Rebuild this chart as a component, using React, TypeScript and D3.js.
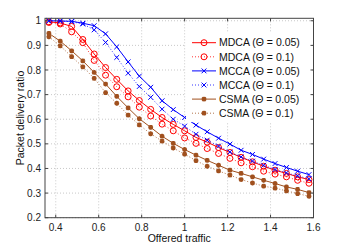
import * as d3 from "d3";

const W = 346, H = 245;
const M = { left: 45, right: 313.5, top: 18.3, bottom: 217.7 };

// offered traffic at each measured point
const traffic = [0.368, 0.421, 0.474, 0.526, 0.579, 0.632, 0.684, 0.737, 0.789, 0.842, 0.895, 0.947,
  1.0, 1.053, 1.105, 1.158, 1.211, 1.263, 1.316, 1.368, 1.421, 1.474, 1.526, 1.579];

const mdca05 = [0.996, 0.991, 0.977, 0.924, 0.865, 0.81, 0.762, 0.715, 0.676, 0.64, 0.607, 0.579,
  0.553, 0.526, 0.507, 0.485, 0.465, 0.445, 0.427, 0.409, 0.393, 0.38, 0.366, 0.355];
const mdca10 = [0.993, 0.987, 0.955, 0.911, 0.839, 0.779, 0.732, 0.691, 0.649, 0.613, 0.58, 0.553,
  0.524, 0.502, 0.481, 0.461, 0.441, 0.423, 0.407, 0.389, 0.377, 0.366, 0.352, 0.34];
const mcca05 = [1.0, 0.999, 0.998, 0.99, 0.98, 0.947, 0.894, 0.833, 0.775, 0.73, 0.675, 0.639,
  0.607, 0.576, 0.549, 0.523, 0.499, 0.474, 0.457, 0.438, 0.42, 0.404, 0.389, 0.375];
const mcca10 = [1.0, 0.999, 0.996, 0.987, 0.963, 0.912, 0.851, 0.787, 0.733, 0.689, 0.641, 0.6,
  0.572, 0.539, 0.515, 0.491, 0.467, 0.447, 0.43, 0.413, 0.396, 0.382, 0.37, 0.358];
const csma05 = [0.949, 0.917, 0.878, 0.837, 0.79, 0.743, 0.693, 0.646, 0.602, 0.567, 0.531, 0.502,
  0.477, 0.454, 0.433, 0.413, 0.393, 0.38, 0.366, 0.352, 0.339, 0.325, 0.315, 0.302];
const csma10 = [0.935, 0.898, 0.854, 0.813, 0.766, 0.708, 0.665, 0.617, 0.577, 0.541, 0.511, 0.483,
  0.458, 0.432, 0.409, 0.39, 0.373, 0.355, 0.341, 0.328, 0.32, 0.309, 0.298, 0.287];

const xTicks = [0.4, 0.6, 0.8, 1, 1.2, 1.4, 1.6];
const yTicks = [0.2, 0.3, 0.4, 0.5, 0.6, 0.7, 0.8, 0.9, 1];

const RED = "#ff0000", BLUE = "#0000ff", BROWN = "#a0501e";

type Marker = "o" | "x" | "*";
const series: { name: string; values: number[]; color: string; dotted: boolean; marker: Marker }[] = [
  { name: "MDCA (\u0398 = 0.05)", values: mdca05, color: RED, dotted: false, marker: "o" },
  { name: "MDCA (\u0398 = 0.1)", values: mdca10, color: RED, dotted: true, marker: "o" },
  { name: "MCCA (\u0398 = 0.05)", values: mcca05, color: BLUE, dotted: false, marker: "x" },
  { name: "MCCA (\u0398 = 0.1)", values: mcca10, color: BLUE, dotted: true, marker: "x" },
  { name: "CSMA (\u0398 = 0.05)", values: csma05, color: BROWN, dotted: false, marker: "*" },
  { name: "CSMA (\u0398 = 0.1)", values: csma10, color: BROWN, dotted: true, marker: "*" },
];

const FONT = "'Liberation Sans', Arial, sans-serif";

function Mark({ type, x, y, color }: { type: Marker; x: number; y: number; color: string }) {
  if (type === "o") return <circle cx={x} cy={y} r={3} fill="none" stroke={color} strokeWidth={1} />;
  if (type === "x") {
    const s = 2.4;
    return <path d={`M${x - s},${y - s}L${x + s},${y + s}M${x - s},${y + s}L${x + s},${y - s}`}
      stroke={color} strokeWidth={1} />;
  }
  const s = 2.4, d = s * 0.75;
  return <path d={`M${x},${y - s}V${y + s}M${x - s},${y}H${x + s}M${x - d},${y - d}L${x + d},${y + d}M${x - d},${y + d}L${x + d},${y - d}`}
    stroke={color} strokeWidth={1.5} />;
}

export default function App() {
  const x = d3.scaleLinear([0.35, 1.6], [M.left, M.right]);
  const y = d3.scaleLinear([0.2, 1.01], [M.bottom, M.top]);
  const line = d3.line<number>().x((_, i) => x(traffic[i])).y((v) => y(v));

  const legX = 192, legY = 42.7, legStep = 14.1;

  return (
    <>
      <style>{"body{margin:0}"}</style>
      <svg width={W} height={H} style={{ display: "block", background: "#fff", fontFamily: FONT }}>
        {/* grid */}
        {xTicks.map((t) => (
          <line key={"gx" + t} x1={x(t)} x2={x(t)} y1={M.top} y2={M.bottom} stroke="#bbb" strokeWidth={0.8} strokeDasharray="1 2" />
        ))}
        {yTicks.map((t) => (
          <line key={"gy" + t} x1={M.left} x2={M.right} y1={y(t)} y2={y(t)} stroke="#bbb" strokeWidth={0.8} strokeDasharray="1 2" />
        ))}

        {/* series */}
        {series.map((s) => (
          <g key={s.name}>
            <path d={line(s.values) ?? ""} fill="none" stroke={s.color} strokeWidth={s.dotted ? 0.8 : 1}
              strokeDasharray={s.dotted ? "1 2" : undefined} />
            {s.values.map((v, i) => (
              <Mark key={i} type={s.marker} x={x(traffic[i])} y={y(v)} color={s.color} />
            ))}
          </g>
        ))}

        {/* legend */}
        <rect x={186} y={32} width={126} height={90} fill="#fff" />
        {series.map((s, i) => {
          const ly = legY + i * legStep;
          return (
            <g key={"leg" + s.name}>
              <line x1={legX} x2={legX + 24} y1={ly} y2={ly} stroke={s.color} strokeWidth={s.dotted ? 0.8 : 1}
                strokeDasharray={s.dotted ? "1 2" : undefined} />
              <Mark type={s.marker} x={legX + 12} y={ly} color={s.color} />
              <text x={legX + 27} y={ly + 3.7} fontSize={10.5} fill="#111">{s.name}</text>
            </g>
          );
        })}

        {/* axes box */}
        <rect x={M.left} y={M.top} width={M.right - M.left} height={M.bottom - M.top} fill="none" stroke="#444" strokeWidth={1} />
        {xTicks.map((t) => (
          <g key={"tx" + t}>
            <line x1={x(t)} x2={x(t)} y1={M.bottom} y2={M.bottom - 3} stroke="#444" />
            <line x1={x(t)} x2={x(t)} y1={M.top} y2={M.top + 3} stroke="#444" />
            <text x={x(t)} y={231} fontSize={10} textAnchor="middle" fill="#222">{d3.format("~g")(t)}</text>
          </g>
        ))}
        {yTicks.map((t) => (
          <g key={"ty" + t}>
            <line x1={M.left} x2={M.left + 3} y1={y(t)} y2={y(t)} stroke="#444" />
            <line x1={M.right} x2={M.right - 3} y1={y(t)} y2={y(t)} stroke="#444" />
            <text x={41} y={y(t) + 3.6} fontSize={10} textAnchor="end" fill="#222">{d3.format("~g")(t)}</text>
          </g>
        ))}

        <text x={(M.left + M.right) / 2} y={242} fontSize={10.5} textAnchor="middle" fill="#111">Offered traffic</text>
        <text transform={`translate(24,${(M.top + M.bottom) / 2}) rotate(-90)`} fontSize={10.5} textAnchor="middle" fill="#111">
          Packet delivery ratio
        </text>
      </svg>
    </>
  );
}
